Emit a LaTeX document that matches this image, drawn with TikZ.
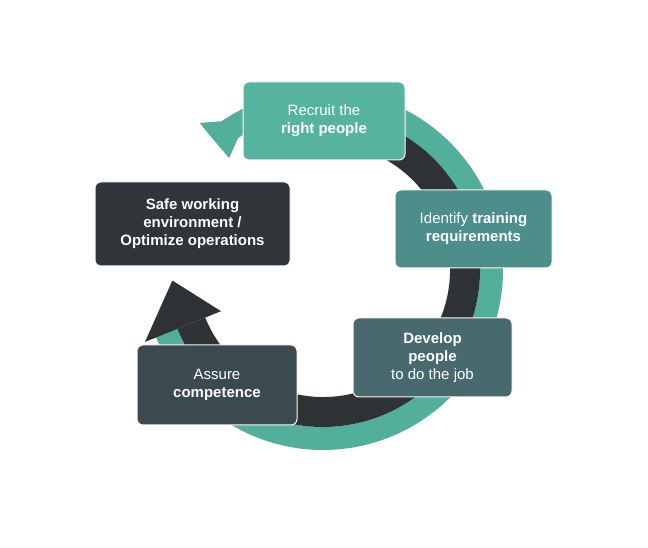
\documentclass[tikz,border=0pt]{standalone}
\usepackage{fontspec}
\setmainfont{Liberation Sans}
\usepackage{xcolor}
\definecolor{ringteal}{HTML}{52AF9C}
\definecolor{ringdark}{HTML}{2E3235}
\definecolor{recruitc}{HTML}{55B3A0}
\definecolor{identc}{HTML}{4C8E8A}
\definecolor{developc}{HTML}{48696D}
\definecolor{assurec}{HTML}{3B4A50}
\definecolor{safec}{HTML}{2F3538}
\tikzset{
  stagebox/.style={draw=white!85!pink,line width=1pt,rounded corners=6pt,
    text=white,align=center,inner sep=2pt,
    font=\fontsize{15}{18}\selectfont},
}
\begin{document}
\begin{tikzpicture}[x=1pt,y=1pt]
    \useasboundingbox (0,0) rectangle (648,548);
    \fill[white] (0,0) rectangle (648,548);
    \begin{scope}[shift={(323,278)}]
    % outer teal arrow
    \fill[ringteal] (130:180) arc (130:-160:180) -- (-160:157) arc (-160:130:157) -- cycle;
    \fill[ringteal] (130:146) -- (130:192) -- (117:169) -- cycle;
    % inner dark arrow
    \fill[ringdark] (62:157) arc (62:-158:157) -- (-158:127) arc (-158:62:127) -- cycle;
    \fill[ringdark] (-158:110) -- (-158:192) -- (-176:151) -- cycle;
    \end{scope}
    \node[stagebox,fill=recruitc,minimum width=162,minimum height=78] (recruit) at (324,427) {Recruit the\\\textbf{right people}};
    \node[stagebox,fill=identc,minimum width=157,minimum height=78] (identify) at (473.5,319) {Identify \textbf{training}\\\textbf{requirements}};
    \node[stagebox,fill=developc,minimum width=159,minimum height=79] (develop) at (432.5,190.5) {\textbf{Develop}\\\textbf{people}\\to do the job};
    \node[stagebox,fill=assurec,minimum width=160,minimum height=80] (assure) at (217,163) {Assure\\\textbf{competence}};
    \node[stagebox,fill=safec,minimum width=195,minimum height=84] (safe) at (192.5,324) {\textbf{Safe working}\\\textbf{environment /}\\\textbf{Optimize operations}};
\end{tikzpicture}
\end{document}
